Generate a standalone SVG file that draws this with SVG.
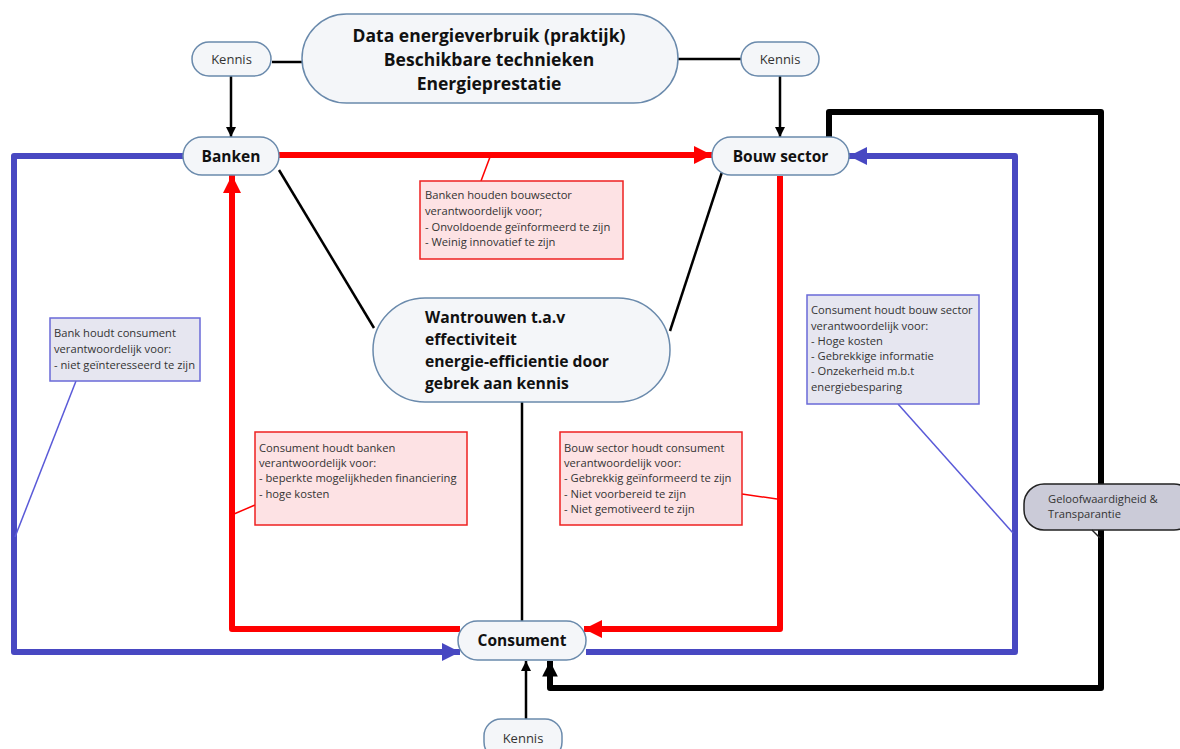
<svg xmlns="http://www.w3.org/2000/svg" width="1180" height="749" viewBox="0 0 1180 749">
<style>
.node{fill:#f4f6f9;stroke:#6a8aac;stroke-width:1.5}
.t{font-family:"Open Sans","Noto Sans",sans-serif;fill:#111}
.big{font-size:17.5px;font-weight:bold}
.lbl{font-size:15.5px;font-weight:bold}
.wt{font-size:15.7px;font-weight:bold}
.ken{font-size:13px;fill:#333}
.sm{font-family:"Open Sans","Noto Sans",sans-serif;font-size:11.2px;fill:#333}
.rbox{fill:#fde2e4;stroke:#ee2020;stroke-width:1.5}
.bbox{fill:#e6e6f0;stroke:#6a6ad8;stroke-width:1.5}
.red{fill:none;stroke:#ff0000;stroke-width:6;stroke-linejoin:round}
.blue{fill:none;stroke:#4848c2;stroke-width:6;stroke-linejoin:round}
.blk{fill:none;stroke:#000;stroke-width:6;stroke-linejoin:round}
.thin{fill:none;stroke:#000;stroke-width:2.5}
</style>
<defs>
<marker id="ar" viewBox="0 0 10 10" refX="10" refY="5" markerWidth="3" markerHeight="3" orient="auto" markerUnits="strokeWidth"><path d="M0,0L10,5L0,10z" fill="#ff0000"/></marker>
<marker id="ab" viewBox="0 0 10 10" refX="10" refY="5" markerWidth="3" markerHeight="3" orient="auto" markerUnits="strokeWidth"><path d="M0,0L10,5L0,10z" fill="#4848c2"/></marker>
<marker id="ak" viewBox="0 0 10 10" refX="10" refY="5" markerWidth="2.6" markerHeight="3" orient="auto" markerUnits="strokeWidth"><path d="M0,0L10,5L0,10z" fill="#000"/></marker>
<marker id="ak2" viewBox="0 0 10 10" refX="10" refY="5" markerWidth="4" markerHeight="4" orient="auto" markerUnits="strokeWidth"><path d="M0,0L10,5L0,10z" fill="#000"/></marker>
</defs>

<g id="connectors">
<line class="thin" x1="272" y1="62" x2="303" y2="62"/>
<line class="thin" x1="677" y1="59" x2="741" y2="59"/>
<line class="thin" x1="231" y1="76" x2="231" y2="137" marker-end="url(#ak2)"/>
<line class="thin" x1="780" y1="76" x2="780" y2="137" marker-end="url(#ak2)"/>
<line class="thin" x1="279" y1="170" x2="374" y2="328"/>
<line class="thin" x1="722" y1="172" x2="670" y2="331"/>
<line class="thin" x1="522" y1="402" x2="522" y2="621"/>
<line class="thin" x1="526" y1="719" x2="526" y2="661" marker-end="url(#ak2)"/>
<path class="red" d="M279,155 H712" marker-end="url(#ar)"/>
<path class="red" d="M780,176 V629 H584" marker-end="url(#ar)"/>
<path class="red" d="M460,629 H232 V175" marker-end="url(#ar)"/>
<path class="blue" d="M184,156 H14 V652 H460" marker-end="url(#ab)"/>
<path class="blue" d="M586,652 H1015 V156 H849" marker-end="url(#ab)"/>
<path class="blk" d="M829,137 V112 H1101 V688 H550 V661" marker-end="url(#ak)"/>
<line x1="490" y1="157" x2="481" y2="181" stroke="#ff0000" stroke-width="1.5"/>
<line x1="255" y1="505" x2="234" y2="514" stroke="#ff0000" stroke-width="1.5"/>
<line x1="742" y1="494" x2="777" y2="499" stroke="#ff0000" stroke-width="1.5"/>
<line x1="76" y1="381" x2="15" y2="537" stroke="#5a5ad8" stroke-width="1.5"/>
<line x1="898" y1="404" x2="1013" y2="533" stroke="#5a5ad8" stroke-width="1.5"/>
</g>

<g id="n-data">
<rect class="node" x="302" y="14" width="376" height="89" rx="44.5"/>
<text class="t big" text-anchor="middle" x="489" y="42">Data energieverbruik (praktijk)</text>
<text class="t big" text-anchor="middle" x="489" y="66">Beschikbare technieken</text>
<text class="t big" text-anchor="middle" x="489" y="90">Energieprestatie</text>
</g>
<g id="n-kennis1">
<rect class="node" x="192" y="42" width="79" height="34" rx="17"/>
<text class="t ken" text-anchor="middle" x="231.5" y="64">Kennis</text>
</g>
<g id="n-kennis2">
<rect class="node" x="741" y="42" width="78" height="34" rx="17"/>
<text class="t ken" text-anchor="middle" x="780" y="64">Kennis</text>
</g>
<g id="n-kennis3">
<rect class="node" x="484" y="719" width="78" height="40" rx="17"/>
<text class="t ken" text-anchor="middle" x="523" y="743">Kennis</text>
</g>
<g id="n-banken">
<rect class="node" x="183" y="137" width="96" height="38" rx="19"/>
<text class="t lbl" text-anchor="middle" x="231" y="161.5">Banken</text>
</g>
<g id="n-bouw">
<rect class="node" x="712" y="137" width="137" height="38" rx="19"/>
<text class="t lbl" text-anchor="middle" x="780.5" y="161.5">Bouw sector</text>
</g>
<g id="n-consument">
<rect class="node" x="458" y="621" width="128" height="39" rx="19.5"/>
<text class="t lbl" text-anchor="middle" x="522" y="645.5">Consument</text>
</g>
<g id="n-wantrouwen">
<rect class="node" x="373" y="298" width="297" height="104" rx="52"/>
<text class="t wt" x="425" y="323">Wantrouwen t.a.v</text>
<text class="t wt" x="425" y="345">effectiviteit</text>
<text class="t wt" x="425" y="367">energie-efficientie door</text>
<text class="t wt" x="425" y="389">gebrek aan kennis</text>
</g>
<g id="n-geloof">
<rect x="1024" y="484" width="170" height="46" rx="20" fill="#cbcbd8" stroke="#222" stroke-width="1.5"/>
<path d="M1092,530 L1100,538" stroke="#222" stroke-width="1.5" fill="none"/>
<text class="sm" x="1048" y="503">Geloofwaardigheid &amp;</text>
<text class="sm" x="1048" y="518">Transparantie</text>
</g>
<g id="n-box1">
<rect class="rbox" x="420" y="181" width="203" height="78"/>
<text class="sm" x="425" y="199">Banken houden bouwsector</text>
<text class="sm" x="425" y="215">verantwoordelijk voor;</text>
<text class="sm" x="425" y="231">-  Onvoldoende geïnformeerd te zijn</text>
<text class="sm" x="425" y="246">-  Weinig innovatief te zijn</text>
</g>
<g id="n-box2">
<rect class="bbox" x="50" y="318" width="150" height="63"/>
<text class="sm" x="54" y="337">Bank houdt consument</text>
<text class="sm" x="54" y="353">verantwoordelijk voor:</text>
<text class="sm" x="54" y="369">- niet geïnteresseerd te zijn</text>
</g>
<g id="n-box3">
<rect class="rbox" x="255" y="432" width="212" height="93"/>
<text class="sm" x="259" y="452">Consument houdt banken</text>
<text class="sm" x="259" y="467"> verantwoordelijk voor:</text>
<text class="sm" x="259" y="482">- beperkte mogelijkheden financiering</text>
<text class="sm" x="259" y="498">- hoge kosten</text>
</g>
<g id="n-box4">
<rect class="rbox" x="560" y="432" width="182" height="93"/>
<text class="sm" x="564" y="452">Bouw sector houdt consument</text>
<text class="sm" x="564" y="467">verantwoordelijk voor:</text>
<text class="sm" x="564" y="482">- Gebrekkig geïnformeerd te zijn</text>
<text class="sm" x="564" y="498">- Niet voorbereid te zijn</text>
<text class="sm" x="564" y="513">- Niet gemotiveerd te zijn</text>
</g>
<g id="n-box5">
<rect class="bbox" x="807" y="295" width="172" height="109"/>
<text class="sm" x="811" y="314">Consument houdt bouw sector</text>
<text class="sm" x="811" y="330">verantwoordelijk voor:</text>
<text class="sm" x="811" y="345">- Hoge kosten</text>
<text class="sm" x="811" y="360">- Gebrekkige informatie</text>
<text class="sm" x="811" y="375">- Onzekerheid m.b.t</text>
<text class="sm" x="811" y="391">energiebesparing</text>
</g>
</svg>
